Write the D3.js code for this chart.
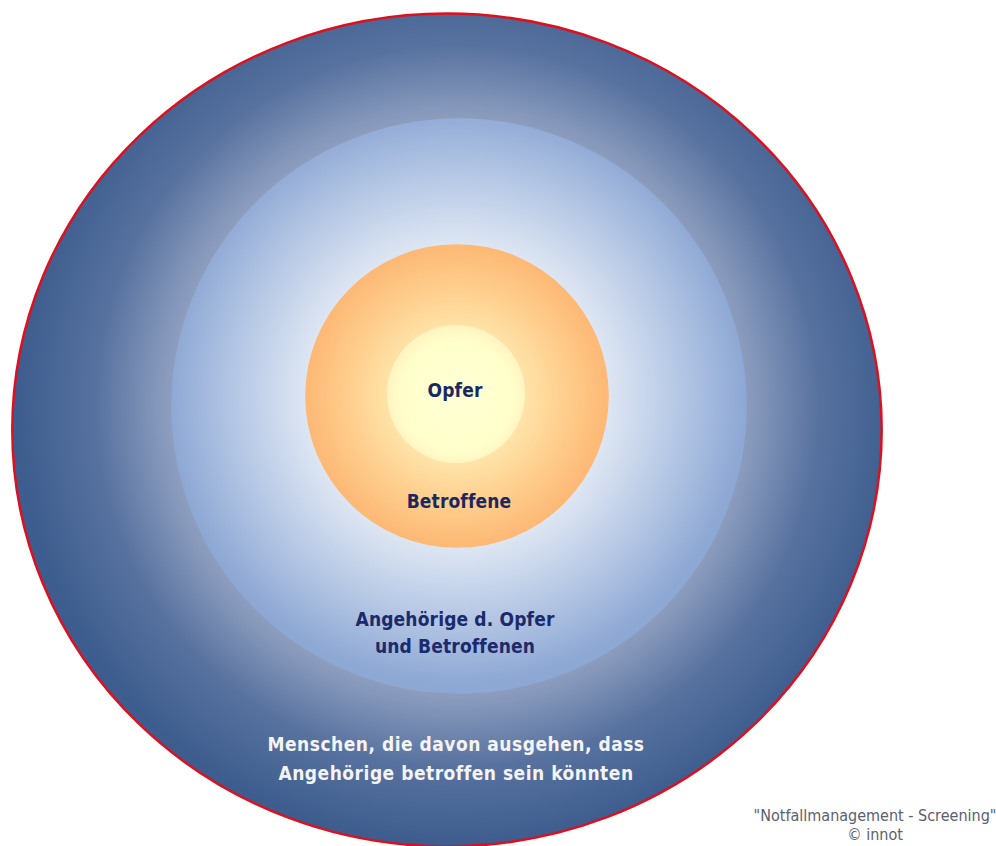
<!DOCTYPE html>
<meta charset="utf-8">
<style>
body { margin: 0; background: #fff; }
svg { display: block; }
</style>
<body>
<script src="https://cdn.jsdelivr.net/npm/d3@7"></script>
<script>
// rings from inside out
var rings = ["Opfer", "Betroffene", "Angehörige", "Menschen"];
var ringSize = [1, 2.2, 4.17, 6.3];   // relative size of each circle
var labels = [
  ["Opfer"],
  ["Betroffene"],
  ["Angehörige d. Opfer", "und Betroffenen"],
  ["Menschen, die davon ausgehen, dass", "Angehörige betroffen sein könnten"]
];
var credit = ["\"Notfallmanagement - Screening\"", "© innot"];

var width = 996, height = 846;

var svg = d3.select("body").append("svg")
    .attr("width", width)
    .attr("height", height);

var r = d3.scaleLinear().domain([0, 1]).range([0, 69]);

var defs = svg.append("defs");

function grad(id, cx, cy, rad, stops) {
  var g = defs.append("radialGradient")
      .attr("id", id)
      .attr("gradientUnits", "userSpaceOnUse")
      .attr("cx", cx).attr("cy", cy).attr("r", rad);
  stops.forEach(function(s) {
    g.append("stop").attr("offset", s[0]).attr("stop-color", s[1]);
  });
}

var cx = 457, cy = 396;

grad("g3", cx, cy + 10, 440, [[0, "#c4cde0"], [0.55, "#a6b2cc"], [0.68, "#8597ba"], [0.82, "#58729f"], [1, "#3d5d8e"]]);
grad("g2", cx, cy, r(ringSize[2]), [[0, "#f4f6fb"], [0.5, "#e2e9f4"], [0.75, "#b9cae6"], [1, "#8ea8d4"]]);
grad("g1", cx, cy, r(ringSize[1]), [[0, "#fff6c8"], [0.45, "#ffe3a8"], [0.75, "#fecb8a"], [1, "#fdb874"]]);
grad("g0", cx, cy, r(ringSize[0]), [[0, "#ffffd6"], [0.8, "#ffffcc"], [1, "#fff5c0"]]);

// outer ring (slightly oval)
svg.append("ellipse")
    .attr("cx", 447).attr("cy", 430)
    .attr("rx", r(ringSize[3]) * 1.0)
    .attr("ry", r(ringSize[3]) * 0.958)
    .attr("fill", "url(#g3)")
    .attr("stroke", "#dd1020")
    .attr("stroke-width", 2.5);

svg.append("circle")
    .attr("cx", cx + 2).attr("cy", cy + 10)
    .attr("r", r(ringSize[2]))
    .attr("fill", "url(#g2)");

svg.append("circle")
    .attr("cx", cx).attr("cy", cy)
    .attr("r", r(ringSize[1]))
    .attr("fill", "url(#g1)");

svg.append("circle")
    .attr("cx", cx - 1).attr("cy", cy - 2)
    .attr("r", r(ringSize[0]))
    .attr("fill", "url(#g0)");

// labels (baselines)
var labelX = [455, 459, 455, 456];
var labelY = [397, 508, 626, 751];
var labelGap = [0, 0, 27, 29];
var labelCol = ["#1b2860", "#1b2860", "#1b2a6c", "#f4f4f4"];

labels.forEach(function(lines, i) {
  var t = svg.append("text")
      .attr("text-anchor", "middle")
      .attr("font-family", "'DejaVu Sans Condensed', 'DejaVu Sans', sans-serif")
      .attr("font-stretch", "condensed")
      .attr("font-weight", "bold")
      .attr("font-size", 19)
      .attr("letter-spacing", i == 3 ? 0.5 : 0.15)
      .attr("fill", labelCol[i]);
  lines.forEach(function(l, j) {
    t.append("tspan")
        .attr("x", labelX[i])
        .attr("y", labelY[i] + j * labelGap[i])
        .text(l);
  });
});

svg.selectAll(".credit")
  .data(credit)
  .enter().append("text")
    .attr("class", "credit")
    .attr("x", 875)
    .attr("y", function(d, i) { return 821 + i * 19; })
    .attr("text-anchor", "middle")
    .attr("font-family", "'DejaVu Sans Condensed', 'DejaVu Sans', sans-serif")
    .attr("font-stretch", "condensed")
    .attr("font-size", 16)
    .attr("fill", "#5a6070")
    .text(function(d) { return d; });
</script>
</body>
